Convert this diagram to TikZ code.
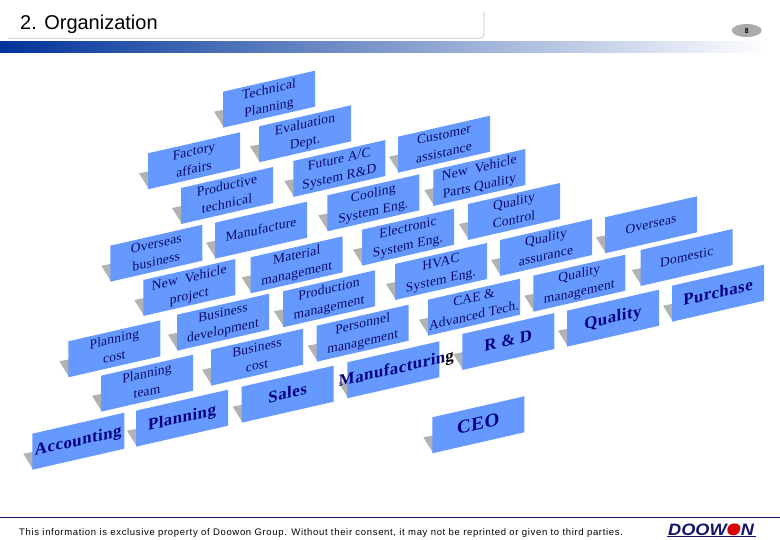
\documentclass[tikz,border=0pt]{standalone}
\usepackage{fontspec}
\usetikzlibrary{shapes.geometric}
\setmainfont{Liberation Serif}
\newfontfamily\smallface[LetterSpace=1.5]{Liberation Serif}
\newfontfamily\bigface[LetterSpace=3,BoldFont={Liberation Serif Bold}]{Liberation Serif}
\newfontfamily\titleface{Liberation Sans}
\newfontfamily\footface[LetterSpace=7]{Liberation Sans}
\newfontfamily\logoface{Liberation Sans}
\newfontfamily\pageface{DejaVu Sans Mono}
\definecolor{boxblue}{HTML}{6699FF}
\definecolor{shadowgray}{HTML}{B2B2B2}
\definecolor{smallink}{HTML}{0A0A66}
\definecolor{bigink}{HTML}{000080}
\definecolor{barblue}{HTML}{003399}
\definecolor{barmid}{HTML}{A9AFD0}
\definecolor{footnavy}{HTML}{141470}
\tikzset{
  orgplate/.style={fill=boxblue,yslant=0.228,transform shape,inner sep=0pt,minimum height=36pt,minimum width=92pt},
  smalllabel/.style={text=smallink,font=\smallface\fontsize{13.5}{15}\selectfont},
  biglabel/.style={text=bigink,font=\bigface\bfseries\fontsize{16.8}{19}\selectfont},
  ceolabel/.style={text=bigink,font=\bigface\bfseries\fontsize{19}{21}\selectfont},
}
\renewcommand\arraystretch{1.2}
\newcommand\orgbox[5]{%
  \fill[shadowgray] ({#2-9},{#3-16}) -- ({#2+1},{#3-18}) -- ({#2+1},{#3}) -- cycle;
  \node[orgplate,#4] (#1) at ({#2+46},{#3-28.5})
    {\makebox[92pt][c]{\begin{tabular}{@{}c@{}}#5\end{tabular}}};
}
\begin{document}
\begin{tikzpicture}[x=1pt,y=-1pt]
\useasboundingbox (0,0) rectangle (780,540);
% header
\coordinate (ruleA) at (8,38.5);
\coordinate (ruleB) at (478,38.5);
\coordinate (ruleC) at (484,32.5);
\coordinate (ruleD) at (484,11.5);
\draw[line width=1.3pt,draw=black!14] (ruleA) -- (ruleB) .. controls (482,38.5) and (484,36.5) .. (ruleC) -- (ruleD);
\shade[left color=barblue,middle color=barmid,right color=white] (0,42) rectangle (770,52.7);
\node[anchor=base west,inner sep=0pt,font=\titleface\fontsize{20}{22}\selectfont] (title) at (20,30) {2. Organization};
\node[ellipse,fill=black!33,minimum width=30pt,minimum height=13pt,inner sep=0pt] (badge) at (746.7,30.5) {};
\node[inner sep=0pt,font=\pageface\bfseries\fontsize{7}{8}\selectfont] (pagenum) at (badge.center) {8};
% boxes
\orgbox{tech}{223}{127.7}{smalllabel}{Technical\\Planning}
\orgbox{eval}{259}{162.3}{smalllabel}{Evaluation\\Dept.}
\orgbox{factory}{148}{189.3}{smalllabel}{Factory\\affairs}
\orgbox{future}{293.3}{197}{smalllabel}{Future A/C\\System R\&D}
\orgbox{custom}{398}{172.7}{smalllabel}{Customer\\assistance}
\orgbox{prodtech}{181}{224}{smalllabel}{Productive\\technical}
\orgbox{cooling}{327.3}{231.3}{smalllabel}{Cooling\\System Eng.}
\orgbox{newparts}{433.3}{206}{smalllabel}{New~ Vehicle\\Parts Quality}
\orgbox{overbiz}{110.3}{281.7}{smalllabel}{Overseas\\business}
\orgbox{manu}{215}{258.7}{smalllabel}{Manufacture}
\orgbox{electro}{362}{265.7}{smalllabel}{Electronic\\System Eng.}
\orgbox{qcontrol}{468}{240}{smalllabel}{Quality\\Control}
\orgbox{oversea}{605}{253.3}{smalllabel}{Overseas}
\orgbox{material}{250.7}{293.3}{smalllabel}{Material\\management}
\orgbox{hvac}{395}{300}{smalllabel}{HVAC\\System Eng.}
\orgbox{qassure}{500}{276}{smalllabel}{Quality\\assurance}
\orgbox{domestic}{640.7}{286}{smalllabel}{Domestic}
\orgbox{newproj}{143.3}{316}{smalllabel}{New~ Vehicle\\project}
\orgbox{prodmgt}{283}{327.3}{smalllabel}{Production\\management}
\orgbox{cae}{428}{335.7}{smalllabel}{CAE \&\\Advanced Tech.}
\orgbox{qmgt}{533.3}{311.7}{smalllabel}{Quality\\management}
\orgbox{purchase}{672}{321.7}{biglabel}{Purchase}
\orgbox{bizdev}{177}{350.7}{smalllabel}{Business\\development}
\orgbox{plancost}{68.3}{377.3}{smalllabel}{Planning\\cost}
\orgbox{person}{316.7}{361.7}{smalllabel}{Personnel\\management}
\orgbox{quality}{567}{346.7}{biglabel}{Quality}
\orgbox{planteam}{101}{411.7}{smalllabel}{Planning\\team}
\orgbox{bizcost}{211}{385.7}{smalllabel}{Business\\cost}
\orgbox{rnd}{462.3}{370}{biglabel}{R \& D}
\orgbox{manuf}{347.3}{398.3}{biglabel}{\hspace*{6pt}Manufacturin{\color{black}g}}
\orgbox{sales}{241.7}{422.7}{biglabel}{Sales}
\orgbox{planning}{136}{446.7}{biglabel}{Planning}
\orgbox{account}{32.3}{469.7}{biglabel}{Accounting}
\orgbox{ceo}{432.3}{453.3}{ceolabel}{CEO}
% footer
\coordinate (footL) at (0,517.7);
\coordinate (footR) at (780,517.7);
\draw[line width=1.2pt,draw=footnavy] (footL) -- (footR);
\node[anchor=base west,inner sep=0pt,font=\footface\fontsize{9.52}{11}\selectfont] (foot) at (19,535)
  {This information is exclusive property of Doowon Group. Without their consent, it may not be reprinted or given to third parties.};
\fill[red!85!black] (733.5,529.5) circle (5.8);
\node[anchor=base west,inner sep=0pt,xscale=1.1,transform shape,text=footnavy,font=\logoface\bfseries\itshape\fontsize{16.5}{18}\selectfont] (logo) at (668,535)
  {DOOW{\color{red!85!black}O}N};
\coordinate (logoL) at (667,536.5);
\coordinate (logoR) at (756,536.5);
\draw[line width=0.7pt,draw=footnavy] (logoL) -- (logoR);
\end{tikzpicture}
\end{document}
